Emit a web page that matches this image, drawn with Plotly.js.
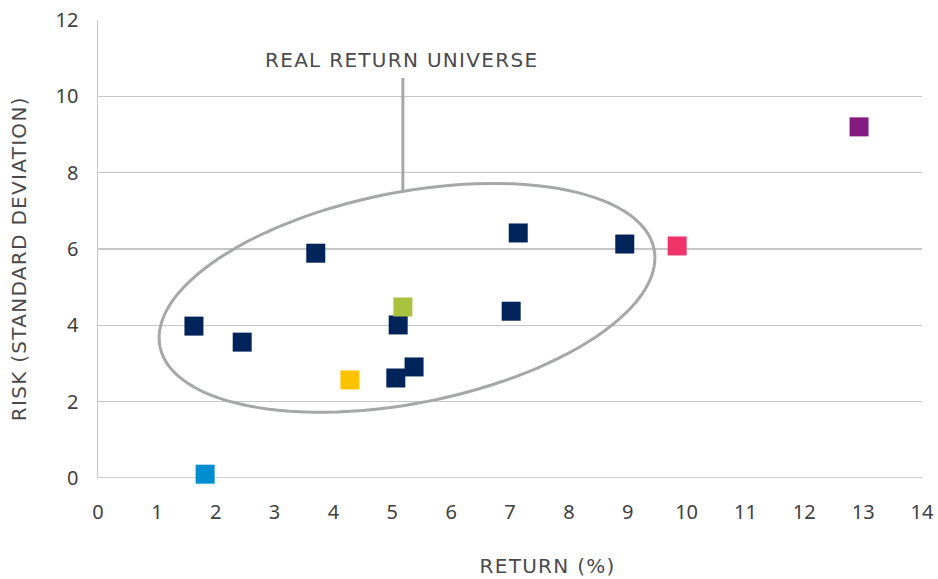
<!DOCTYPE html>
<html><head><meta charset="utf-8">
<script src="https://cdn.plot.ly/plotly-3.0.1.min.js"></script>
<style>body{margin:0;background:#fff}#c{width:938px;height:579px}
#c .annotation-text{letter-spacing:1.3px}</style>
</head><body><div id="c"></div>
<script>
// Data
const navyReturn = [1.63, 2.45, 3.70, 5.10, 5.06, 5.37, 7.02, 7.14, 8.95];
const navyRisk   = [3.98, 3.56, 5.89, 4.01, 2.62, 2.91, 4.37, 6.42, 6.13];
const otherNames  = ['green', 'yellow', 'lightblue', 'pink', 'purple'];
const otherReturn = [5.18, 4.28, 1.82, 9.84, 12.93];
const otherRisk   = [4.48, 2.57, 0.10, 6.08, 9.20];
const otherColors = ['#AAC33F', '#FDC300', '#008ED0', '#EE3469', '#841B80'];
const xTicks = [0,1,2,3,4,5,6,7,8,9,10,11,12,13,14];
const yTicks = [0,2,4,6,8,10,12];
const labelText = 'REAL RETURN UNIVERSE';

// Ellipse annotation (center and conjugate semi-axes, data units)
const ell = {cx: 5.25, cy: 4.72, ux: 4.198, uy: 1.275, vx: 0.347, vy: -2.713};
let path = '';
for (let i = 0; i <= 120; i++) {
  const t = 2 * Math.PI * i / 120;
  const x = ell.cx + Math.cos(t) * ell.ux + Math.sin(t) * ell.vx;
  const y = ell.cy + Math.cos(t) * ell.uy + Math.sin(t) * ell.vy;
  path += (i === 0 ? 'M' : 'L') + x.toFixed(4) + ',' + y.toFixed(4);
}
path += 'Z';

const font = '"DejaVu Sans", sans-serif';
const tickFont = {family: '"Noto Sans", "DejaVu Sans", sans-serif', size: 20, color: '#404040'};
const traces = [{
  type: 'scatter', mode: 'markers', x: navyReturn, y: navyRisk, cliponaxis: false,
  marker: {symbol: 'square', size: 19, color: '#00245A', line: {width: 0}},
  hoverinfo: 'skip'
}, {
  type: 'scatter', mode: 'markers', x: otherReturn, y: otherRisk, text: otherNames, cliponaxis: false,
  marker: {symbol: 'square', size: 19, color: otherColors, line: {width: 0}},
  hoverinfo: 'skip'
}];

const layout = {
  width: 938, height: 579,
  margin: {l: 98, r: 16, t: 20, b: 101},
  paper_bgcolor: '#fff', plot_bgcolor: '#fff',
  showlegend: false,
  font: {family: font, size: 18, color: '#404040'},
  xaxis: {
    range: [0, 14], tickvals: xTicks, ticktext: xTicks.map(String), tickfont: tickFont,
    showgrid: false, zeroline: false, showline: false, ticks: '',
    ticklabelstandoff: 20, fixedrange: true
  },
  yaxis: {
    range: [0, 12], tickvals: yTicks, ticktext: yTicks.map(String), tickfont: tickFont,
    showgrid: true, gridcolor: '#c6c6c6', gridwidth: 1.5,
    zeroline: false, showline: true, linecolor: '#c6c6c6', linewidth: 1.5,
    ticks: '', ticklabelstandoff: 14, fixedrange: true
  },
  shapes: [
    {type: 'line', xref: 'x', yref: 'y', x0: 0, x1: 14, y0: 0, y1: 0,
     line: {color: '#bdbdbd', width: 1.5}, layer: 'below'},
    {type: 'path', xref: 'x', yref: 'y', path: path,
     line: {color: '#a6a7a9', width: 3}},
    {type: 'line', xref: 'x', yref: 'y', x0: 5.18, x1: 5.18, y0: 10.48, y1: 7.50,
     line: {color: '#a6a7a9', width: 3}}
  ],
  annotations: [
    {text: labelText, xref: 'x', yref: 'y', x: 5.15, y: 10.95, showarrow: false,
     font: {family: font, size: 20, color: '#4a4a4a'}, xanchor: 'center', yanchor: 'middle'},
    {text: 'RETURN (%)', xref: 'paper', yref: 'paper', x: (547.5 - 98) / 824, y: -(566 - 478) / 458,
     showarrow: false, xanchor: 'center', yanchor: 'middle',
     font: {family: font, size: 20, color: '#4a4a4a'}},
    {text: 'RISK (STANDARD DEVIATION)', xref: 'paper', yref: 'paper', x: -(98 - 19) / 824, y: (478 - 259) / 458,
     showarrow: false, textangle: -90, xanchor: 'center', yanchor: 'middle',
     font: {family: font, size: 20, color: '#4a4a4a'}}
  ]
};
Plotly.newPlot('c', traces, layout, {staticPlot: true, displayModeBar: false});
</script></body></html>
